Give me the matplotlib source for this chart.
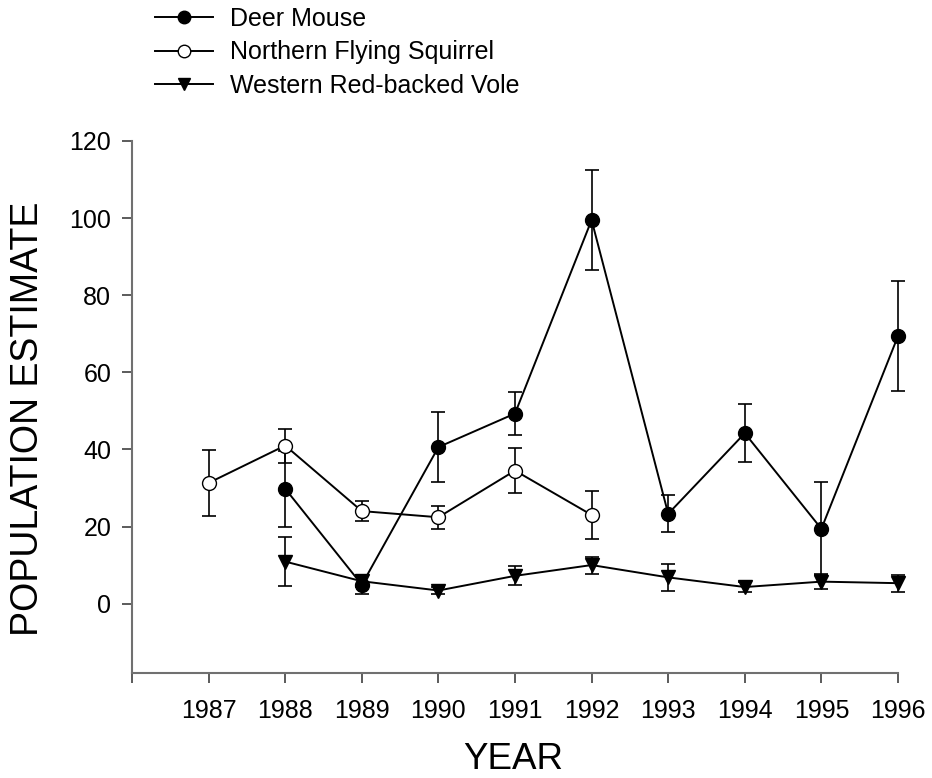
import matplotlib
matplotlib.use("Agg")
import matplotlib.pyplot as plt
import numpy as np

plt.rcParams['font.family'] = ['Liberation Sans', 'DejaVu Sans']

# ---- data ----
dm_years = [1988, 1989, 1990, 1991, 1992, 1993, 1994, 1995, 1996]
dm_vals = [29.8, 4.9, 40.6, 49.3, 99.5, 23.3, 44.2, 19.4, 69.4]
dm_err = [9.8, 2.3, 9.1, 5.5, 12.9, 4.8, 7.5, 12.1, 14.3]

nfs_years = [1987, 1988, 1989, 1990, 1991, 1992]
nfs_vals = [31.3, 41.0, 24.0, 22.4, 34.5, 23.0]
nfs_err = [8.5, 4.4, 2.7, 3.0, 5.8, 6.3]

wrv_years = [1988, 1989, 1990, 1991, 1992, 1993, 1994, 1995, 1996]
wrv_vals = [10.9, 5.8, 3.4, 7.2, 10.0, 6.8, 4.3, 5.7, 5.3]
wrv_err = [6.4, 1.5, 0.8, 2.5, 2.2, 3.4, 1.2, 2.0, 2.2]

labels = ["Deer Mouse", "Northern Flying Squirrel", "Western Red-backed Vole"]
year_ticks = list(range(1986, 1997))
year_labels = [""] + [str(y) for y in range(1987, 1997)]
y_ticks = [0, 20, 40, 60, 80, 100, 120]

W, H = 932, 778
fig = plt.figure(figsize=(W / 100, H / 100), dpi=100)
ax = fig.add_axes([132 / W, 1 - 673 / H, (898 - 132) / W, (673 - 141) / H])

eb_kw = dict(fmt='none', ecolor='black', elinewidth=1.2, capsize=5, capthick=1.2, zorder=2)
for yrs, vals, err in [(dm_years, dm_vals, dm_err), (nfs_years, nfs_vals, nfs_err),
                       (wrv_years, wrv_vals, wrv_err)]:
    eb = ax.errorbar(yrs, vals, yerr=err, **eb_kw)
    for art in eb.lines[1] + eb.lines[2]:
        art.set_clip_on(False)

l1, = ax.plot(dm_years, dm_vals, '-', color='black', lw=1.4, marker='o', ms=10,
              mfc='black', mec='black', zorder=3, label=labels[0], clip_on=False)
l2, = ax.plot(nfs_years, nfs_vals, '-', color='black', lw=1.4, marker='o', ms=10,
              mfc='white', mec='black', mew=1.0, zorder=3, label=labels[1], clip_on=False)
l3, = ax.plot(wrv_years, wrv_vals, '-', color='black', lw=1.4, marker='v', ms=10,
              mfc='black', mec='black', zorder=3, label=labels[2], clip_on=False)

ax.set_xlim(1986, 1996)
ax.set_ylim(-18, 120)
ax.set_xticks(year_ticks)
ax.set_xticklabels(year_labels)
ax.set_yticks(y_ticks)
for s in ['top', 'right']:
    ax.spines[s].set_visible(False)
for s in ['left', 'bottom']:
    ax.spines[s].set_color('#707070')
    ax.spines[s].set_linewidth(1.5)
ax.tick_params(axis='both', direction='out', length=7, width=1.2, color='#404040',
               labelsize=18, pad=8)
ax.tick_params(axis='x', pad=12)

fig.text(513 / W, 1 - 769 / H, "YEAR", fontsize=26.5, ha='center', va='baseline')
fig.text(28 / W, 1 - 419 / H, "POPULATION ESTIMATE", fontsize=27, ha='center', va='center',
         rotation=90)

fig.legend(handles=[l1, l2, l3], loc='upper left', bbox_to_anchor=(155 / W, 1 - 7 / H),
           frameon=False, fontsize=18, handlelength=2.3, handletextpad=0.7,
           labelspacing=0.38, borderpad=0, borderaxespad=0, markerscale=0.9)

fig.savefig("out.png", dpi=100)
